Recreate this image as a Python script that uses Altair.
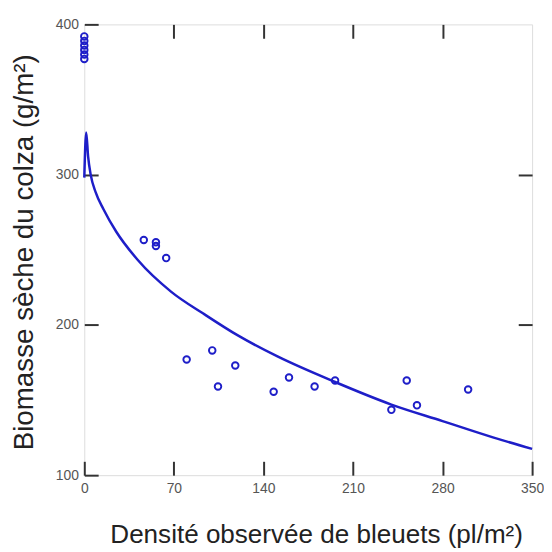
import altair as alt
import pandas as pd

# Observed points
pt_x = [0, 0, 0, 0, 0, 0,
        46.5, 56, 56, 64, 80, 100, 104.5, 118, 148, 160, 180, 196, 240, 252, 260, 300]
pt_y = [392, 389, 386, 383, 380, 377,
        256.5, 255, 252.5, 244.5, 177, 183, 159, 173, 155.5, 165, 159, 163, 143.5, 163, 146.5, 157]

# Fitted curve
cv_x = [0, 1.5, 3, 5, 9, 15, 25, 42, 68, 94, 120, 151, 196, 240, 280, 320, 350]
cv_y = [298, 328, 312, 300, 288, 277, 262, 243, 222, 207, 193, 179, 162, 147, 136, 125, 117.5]

x_ticks = [0, 70, 140, 210, 280, 350]
y_ticks = [100, 200, 300, 400]
top_ticks = [70, 140, 210, 280]
right_ticks = [200, 300]

BLUE = "#1e1ec8"
FONT = "Liberation Sans"

pts = pd.DataFrame({"x": pt_x, "y": pt_y})
cv = pd.DataFrame({"x": cv_x, "y": cv_y})

xscale = alt.Scale(domain=[0, 350], nice=False, zero=False)
yscale = alt.Scale(domain=[100, 400], nice=False, zero=False)

points = alt.Chart(pts).mark_point(
    filled=False, color=BLUE, strokeWidth=1.9, size=44, opacity=1
).encode(
    x=alt.X("x:Q", scale=xscale, axis=alt.Axis(
        orient="bottom", values=x_ticks, tickSize=14, offset=-14, domain=False,
        grid=False, tickColor="#333", tickWidth=2, labelFlush=False,
        labelPadding=6, labelFontSize=14, labelColor="#555", labelFont=FONT,
        title="Densité observée de bleuets (pl/m²)", titleFont=FONT,
        titleFontSize=26.3, titleFontWeight="normal", titleColor="#222",
        titleX=234, titleY=82, titleAlign="center", titleBaseline="alphabetic",
    )),
    y=alt.Y("y:Q", scale=yscale, axis=alt.Axis(
        orient="left", values=y_ticks, tickSize=14, offset=-14, domain=False,
        grid=False, tickColor="#333", tickWidth=2, labelFlush=False,
        labelPadding=6, labelFontSize=14, labelColor="#555", labelFont=FONT,
        title="Biomasse sèche du colza (g/m²)", titleFont=FONT,
        titleFontSize=28, titleFontWeight="normal", titleColor="#222",
        titleAngle=270, titleX=-66, titleY=229.5, titleAlign="center",
        titleBaseline="alphabetic",
    )),
)

curve = alt.Chart(cv).mark_line(
    color=BLUE, strokeWidth=2.5, interpolate="monotone"
).encode(
    x=alt.X("x:Q", scale=xscale, axis=alt.Axis(
        orient="top", values=top_ticks, tickSize=14, offset=-14, domain=False,
        grid=False, labels=False, tickColor="#333", tickWidth=2, title=None,
    )),
    y=alt.Y("y:Q", scale=yscale, axis=alt.Axis(
        orient="right", values=right_ticks, tickSize=14, offset=-14, domain=False,
        grid=False, labels=False, tickColor="#333", tickWidth=2, title=None,
    )),
)

chart = alt.layer(points, curve).resolve_axis(
    x="independent", y="independent"
).properties(
    width=452, height=455,
    autosize=alt.AutoSizeParams(type="none"),
    padding={"left": 77, "top": 14, "right": 12, "bottom": 74},
).configure_view(
    stroke="#333", strokeWidth=2
).configure(background="white")

chart.save("out.html", embed_options={"renderer": "svg", "actions": False})
